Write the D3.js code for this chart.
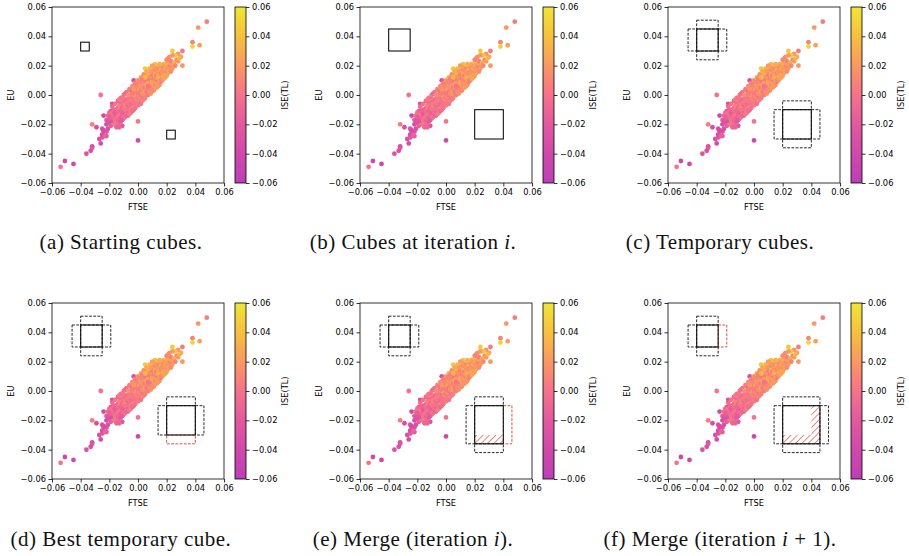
<!DOCTYPE html>
<html>
<head>
<meta charset="utf-8">
<script src="https://cdn.jsdelivr.net/npm/d3@7"></script>
<style>
  body { margin: 0; background: #fff; }
  svg text { font-family: 'DejaVu Sans', sans-serif; }
  .caption { font-family: 'Liberation Serif', serif; font-size: 21px; letter-spacing: 0.5px; fill: #111; }
</style>
</head>
<body>
<div id="chart"></div>
<script>
// returns of the markets, values per mille: [FTSE, EU, ISE(TL)]
const lowTail = [
  [-54, -49, 0], [-51, -45, -40], [-45, -47, -40], [-36, -40, -30], [-33, -38, -30],
  [-32, -35, -35], [-32, -36, -25], [-26, -33, -35], [-27, -30, -30], [-25, -29, -20],
  [-25, -27, -35], [-24, -25, -30], [-25, -23, -25], [-23, -28, -10], [-22, -25, -25],
  [-21, -23, -30], [-22, -20, -35], [-32, -20, 5], [-29, -22, -35], [-26, 0, 0],
  [-24, -14, -40], [-20, -14, -35], [-18, -6, -35], [-17, -14, -40], [-24, -24, -35],
  [-22, -28, -15], [-16, -19, -35], [-15, -20, -35], [0, -31, -40], [0, -18, 0],
  [-19, -11, -20], [-3, 10, -30], [-11, -21, -25], [-13, -22, -10]
]
const core = [
  [-22, -17, -15], [-21, -14, 0], [-20, -19, -25], [-20, -12, -5], [-19, -16, -10],
  [-19, -21, -15], [-18, -13, 5], [-18, -18, -30], [-17, -11, -5], [-17, -15, -10],
  [-17, -20, 0], [-16, -14, -20], [-16, -17, 5], [-16, -10, -10], [-15, -12, -15],
  [-15, -16, -5], [-15, -19, 5], [-14, -9, -10], [-14, -13, 0], [-14, -18, -10],
  [-13, -11, -25], [-13, -15, -5], [-13, -7, 10], [-12, -9, -10], [-12, -13, 5],
  [-12, -16, -15], [-12, -5, -5], [-11, -10, 0], [-11, -12, -30], [-11, -7, 5],
  [-11, -14, -10], [-10, -8, -15], [-10, -11, 10], [-10, -5, -5], [-10, -13, -10],
  [-10, -16, 0], [-9, -6, 5], [-9, -9, -5], [-9, -12, -20], [-9, -3, 0],
  [-8, -7, 10], [-8, -10, -5], [-8, -4, -10], [-8, -13, 5], [-8, -8, 15],
  [-7, -6, 0], [-7, -9, 10], [-7, -3, -5], [-7, -11, -15], [-6, -4, 5],
  [-6, -7, 15], [-6, -1, -5], [-6, -10, 0], [-5, -5, 10], [-5, -2, -10],
  [-5, -8, 5], [-5, 0, 15], [-5, -12, -10], [-4, -3, 15], [-4, -6, 0],
  [-4, 1, 5], [-4, -9, 5], [-3, -1, -5], [-3, -4, 10], [-3, 2, 20],
  [-3, -7, 5], [-3, -10, -15], [-2, 0, 5], [-2, -3, 0], [-2, 3, 15],
  [-2, -6, 10], [-2, 5, 25], [-1, 1, 5], [-1, -2, 10], [-1, 4, 5],
  [-1, -5, -5], [-1, 7, 30], [0, 2, 15], [0, -1, 5], [0, 5, 0],
  [0, -4, 0], [0, 8, 20], [0, 0, 25], [1, 3, 10], [1, 0, 0],
  [1, 6, 20], [1, -3, 5], [2, 1, 15], [2, 4, 5], [2, -2, 10],
  [2, 7, 30], [2, 10, 40], [3, 3, 20], [3, 6, 5], [3, 0, 10],
  [3, 9, 15], [3, -3, -10], [4, 5, 25], [4, 2, 5], [4, 8, 10],
  [4, 11, 35], [4, -1, 5], [5, 4, 15], [5, 7, 20], [5, 1, 0],
  [5, 10, 5], [5, 13, 40], [5, 18, 45], [6, 6, 10], [6, 3, 25],
  [6, 9, 0], [6, 12, 20], [6, 0, 15], [7, 5, 5], [7, 8, 30],
  [7, 11, 10], [7, 2, 20], [7, 14, 25], [8, 7, 15], [8, 10, 5],
  [8, 4, 25], [8, 13, 20], [8, 1, 10], [9, 9, 30], [9, 6, 0],
  [9, 12, 15], [9, 15, 35], [9, 3, 20], [10, 8, 10], [10, 11, 25],
  [10, 14, 5], [10, 5, 15], [10, 17, 30], [11, 10, 20], [11, 7, 35],
  [11, 13, 10], [11, 16, 0], [11, 4, 15], [12, 12, 25], [12, 9, 15],
  [12, 15, 30], [12, 6, 5], [12, 18, 20], [13, 11, 15], [13, 14, 35],
  [13, 8, 20], [13, 17, 10], [14, 13, 25], [14, 10, 5], [14, 16, 20],
  [14, 19, 40], [15, 12, 15], [15, 15, 30], [15, 18, 10], [15, 9, 25],
  [16, 14, 20], [16, 17, 35], [16, 11, 0], [16, 20, 25], [17, 16, 15],
  [17, 13, 30], [17, 19, 20], [18, 15, 25], [18, 18, 10], [18, 21, 30],
  [19, 17, 20], [19, 14, 35], [19, 20, 15], [20, 19, 25], [20, 16, 5],
  [20, 22, 40], [21, 18, 20], [21, 21, 30], [22, 20, 15], [22, 17, 25],
  [23, 22, 35], [23, 19, 10], [24, 21, 25], [24, 18, 20],
  [-14, -11, -5], [-13, -9, 5], [-12, -11, -10], [-11, -9, -10], [-10, -9, 5],
  [-9, -10, 0], [-9, -7, 10], [-8, -5, 0], [-7, -7, -10], [-7, -5, 5],
  [-6, -6, 5], [-6, -3, 0], [-5, -4, 10], [-5, -6, -5], [-4, -4, 5],
  [-4, -1, 5], [-3, -2, 0], [-3, 0, 10], [-2, -1, 15], [-2, 1, 0],
  [-1, 0, 20], [-1, 3, 10], [0, 1, 0], [0, 3, 10], [1, 2, 5],
  [1, 4, 25], [2, 2, 0], [2, 5, 20], [3, 4, 10], [3, 2, 5],
  [4, 4, 15], [4, 6, 20], [5, 5, 0], [5, 3, 10], [6, 5, 20],
  [6, 7, 30], [7, 7, 15], [7, 4, 10], [8, 8, 25], [8, 6, 5],
  [9, 8, 20], [9, 10, 10], [10, 10, 15], [10, 9, 30], [11, 11, 5],
  [11, 9, 20], [12, 11, 10], [12, 13, 25], [13, 12, 20], [13, 13, 5],
  [14, 14, 15], [14, 12, 30], [15, 14, 25], [16, 15, 10], [17, 15, 20],
  [18, 17, 15], [19, 18, 30], [20, 18, 20], [-16, -13, -15], [-15, -14, 0],
  [-17, -13, -20], [-18, -15, -5], [-19, -13, 0], [-20, -15, -15], [-21, -18, -25],
  [0, -2, 5], [1, -1, 15], [-1, -3, 5], [2, 0, 0], [3, 1, 20],
  [-2, -4, 10], [4, 1, 15], [5, 2, 25], [-3, -5, 0], [6, 2, 5], [7, 6, 0],
  [12, 21, 40]
]
// points off the main diagonal, above and below it
const spreadAbove = [
  [-18, -8, -5], [-16, -6, 0], [-14, -4, -10], [-12, -2, 5], [-10, 0, 5],
  [-8, 2, 0], [-6, 4, 10], [-4, 6, 15], [-2, 8, 5], [0, 10, 20],
  [2, 12, 30], [4, 14, 15], [6, 16, 25], [8, 18, 35], [10, 20, 20],
  [-13, -3, 5], [-9, 1, -5], [-5, 3, 0], [-1, 6, 10], [3, 11, 5],
  [7, 15, 30], [11, 19, 25], [-11, -2, 0], [-7, 0, 15], [-3, 4, 20],
  [1, 9, 10], [5, 12, 35], [9, 16, 20], [13, 18, 15], [15, 21, 30]
]
const spreadBelow = [
  [-15, -22, -10], [-13, -19, -5], [-11, -17, -15], [-9, -15, 0], [-7, -14, -5],
  [-5, -11, 5], [-3, -9, 10], [-1, -7, 0], [1, -5, 5], [3, -4, 15],
  [5, -2, 10], [7, 0, 5], [9, 1, 20], [11, 3, 10], [13, 5, 25],
  [15, 7, 15], [17, 10, 20], [19, 12, 30], [21, 15, 25], [23, 16, 15],
  [-12, -18, -20], [-8, -14, -10], [-4, -11, -5], [0, -7, 5], [4, -3, 5],
  [8, 2, 15], [12, 5, 20], [16, 9, 10], [20, 13, 25], [-6, -13, 5],
  [2, -6, 0], [10, 3, 15], [14, 6, 20], [18, 11, 25], [-2, -9, 0]
]
const highTail = [
  [48, 50, 5], [42, 46, 20], [43, 34, 25], [38, 36, 10], [38, 33, 50],
  [31, 20, 20], [31, 30, 5], [24, 30, 45], [28, 28, 20], [26, 27, 45],
  [30, 26, 25], [27, 24, 10], [28, 23, 20], [23, 23, 5], [21, 25, 25],
  [25, 22, 30], [22, 26, 15], [26, 20, 10], [29, 25, 35], [24, 27, 20], [20, 24, 10]
]
const perMille = 0.001

const ticks = [-0.06, -0.04, -0.02, 0, 0.02, 0.04, 0.06]
const colorStops = ['#bd3fb6', '#cf49aa', '#e2599e', '#f5728b', '#f99862', '#f6c03e', '#efe637']

// cubes as [x0, x1, y0, y1]
const startCubes = [[-0.040, -0.034, 0.030, 0.036], [0.020, 0.026, -0.030, -0.024]]
const cubeA = [-0.040, -0.025, 0.030, 0.045]
const cubeB = [0.020, 0.040, -0.030, -0.010]
const cubeBMerged = [0.020, 0.040, -0.036, -0.010]
const cubeBMerged2 = [0.020, 0.046, -0.036, -0.010]
const step = 0.006

const captions = [
  [['(a) Starting cubes.']],
  [['(b) Cubes at iteration '], ['i', true], ['.']],
  [['(c) Temporary cubes.']],
  [['(d) Best temporary cube.']],
  [['(e) Merge (iteration '], ['i', true], [').']],
  [['(f) Merge (iteration '], ['i', true], [' + 1).']]
]

// extension boxes around a cube; red = list of sides drawn red
function extensions (c, red = []) {
  const [x0, x1, y0, y1] = c
  return [
    { box: [x0 - step, x0, y0, y1], style: red.includes('left') ? 'red' : 'dash' },
    { box: [x1, x1 + step, y0, y1], style: red.includes('right') ? 'red' : 'dash' },
    { box: [x0, x1, y1, y1 + step], style: red.includes('top') ? 'red' : 'dash' },
    { box: [x0, x1, y0 - step, y0], style: red.includes('bottom') ? 'red' : 'dash' }
  ]
}

const panels = [
  startCubes.map(c => ({ box: c, style: 'solid' })),
  [cubeA, cubeB].map(c => ({ box: c, style: 'solid' })),
  [...extensions(cubeA), ...extensions(cubeB), { box: cubeA, style: 'solid' }, { box: cubeB, style: 'solid' }],
  [...extensions(cubeA), ...extensions(cubeB, ['bottom']), { box: cubeA, style: 'solid' }, { box: cubeB, style: 'solid' }],
  [
    { box: [0.020, 0.040, -0.036, -0.030], style: 'hatch' },
    ...extensions(cubeA), ...extensions(cubeBMerged, ['right']),
    { box: cubeA, style: 'solid' }, { box: cubeBMerged, style: 'solid' }
  ],
  [
    { box: [0.020, 0.046, -0.036, -0.030], style: 'hatch' },
    { box: [0.040, 0.046, -0.030, -0.010], style: 'hatch' },
    ...extensions(cubeA, ['right']), ...extensions(cubeBMerged2),
    { box: cubeA, style: 'solid' }, { box: cubeBMerged2, style: 'solid' }
  ]
]

const colLeft = [52, 360, 668]
const rowTop = [7, 303]
const captionX = [121, 413, 720]
const captionY = [249, 546]
const W = 172
const H = 176
const red = '#e8382f'

const points = [...lowTail, ...core, ...spreadAbove, ...spreadBelow, ...highTail]

const svg = d3.select('#chart')
  .append('svg')
  .attr('width', 909)
  .attr('height', 556)

const defs = svg.append('defs')
const grad = defs.append('linearGradient')
  .attr('id', 'cbar')
  .attr('x1', 0).attr('y1', 1).attr('x2', 0).attr('y2', 0)
colorStops.forEach((c, i) => {
  grad.append('stop').attr('offset', i / (colorStops.length - 1)).attr('stop-color', c)
})
const hatch = defs.append('pattern')
  .attr('id', 'hatch')
  .attr('patternUnits', 'userSpaceOnUse')
  .attr('width', 4.5)
  .attr('height', 4.5)
  .attr('patternTransform', 'rotate(45)')
hatch.append('line')
  .attr('x1', 0).attr('y1', 0).attr('x2', 0).attr('y2', 4.5)
  .attr('stroke', red)
  .attr('stroke-width', 1.2)

const color = d3.scaleLinear()
  .domain(d3.range(colorStops.length).map(i => -0.06 + i * 0.12 / (colorStops.length - 1)))
  .range(colorStops)
  .clamp(true)

const fmt = d3.format('.2f')

panels.forEach((shapes, i) => {
  const left = colLeft[i % 3]
  const top = rowTop[Math.floor(i / 3)]
  const g = svg.append('g').attr('transform', `translate(${left},${top})`)

  const x = d3.scaleLinear().domain([-0.06, 0.06]).range([0, W])
  const y = d3.scaleLinear().domain([-0.06, 0.06]).range([H, 0])

  g.append('g')
    .selectAll('circle')
    .data(points)
    .enter()
    .append('circle')
    .attr('cx', d => x(d[0] * perMille))
    .attr('cy', d => y(d[1] * perMille))
    .attr('r', 2.4)
    .attr('fill', d => color(d[2] * perMille))

  // cubes
  g.append('g')
    .selectAll('rect')
    .data(shapes)
    .enter()
    .append('rect')
    .attr('x', d => x(d.box[0]))
    .attr('y', d => y(d.box[3]))
    .attr('width', d => x(d.box[1]) - x(d.box[0]))
    .attr('height', d => y(d.box[2]) - y(d.box[3]))
    .attr('fill', d => d.style === 'hatch' ? 'url(#hatch)' : 'none')
    .attr('stroke', d => d.style === 'hatch' ? 'none' : d.style === 'red' ? red : '#111')
    .attr('stroke-width', d => d.style === 'solid' ? 1.1 : 0.9)
    .attr('stroke-dasharray', d => d.style === 'dash' || d.style === 'red' ? '2.8,1.4' : null)

  const xAxis = g.append('g')
    .attr('transform', `translate(0,${H})`)
    .call(d3.axisBottom(x).tickValues(ticks).tickFormat(fmt).tickSize(3.5).tickPadding(2.5))
  const yAxis = g.append('g')
    .call(d3.axisLeft(y).tickValues(ticks).tickFormat(fmt).tickSize(3.5).tickPadding(2.5))
  ;[xAxis, yAxis].forEach(a => {
    a.select('.domain').remove()
    a.selectAll('line').attr('stroke', '#000').attr('stroke-width', 0.8)
    a.selectAll('text').attr('font-size', 8.3).attr('fill', '#000').attr('font-family', 'DejaVu Sans')
  })

  g.append('rect')
    .attr('width', W)
    .attr('height', H)
    .attr('fill', 'none')
    .attr('stroke', '#000')
    .attr('stroke-width', 0.8)

  g.append('text')
    .attr('x', W / 2)
    .attr('y', H + 27)
    .attr('text-anchor', 'middle')
    .attr('font-size', 8.3)
    .text('FTSE')
  g.append('text')
    .attr('transform', `translate(-38,${H / 2}) rotate(-90)`)
    .attr('text-anchor', 'middle')
    .attr('font-size', 8.3)
    .text('EU')

  // colorbar
  const cb = g.append('g').attr('transform', `translate(${W + 11},0)`)
  cb.append('rect')
    .attr('width', 11)
    .attr('height', H)
    .attr('fill', 'url(#cbar)')
    .attr('stroke', '#000')
    .attr('stroke-width', 0.8)
  const cAxis = cb.append('g')
    .attr('transform', 'translate(11,0)')
    .call(d3.axisRight(y).tickValues(ticks).tickFormat(fmt).tickSize(3.5).tickPadding(2.5))
  cAxis.select('.domain').remove()
  cAxis.selectAll('line').attr('stroke', '#000').attr('stroke-width', 0.8)
  cAxis.selectAll('text').attr('font-size', 8.3).attr('fill', '#000').attr('font-family', 'DejaVu Sans')
  cb.append('text')
    .attr('transform', `translate(53,${H / 2}) rotate(-90)`)
    .attr('text-anchor', 'middle')
    .attr('font-size', 8.3)
    .text('ISE(TL)')

  const cap = svg.append('text')
    .attr('class', 'caption')
    .attr('x', captionX[i % 3])
    .attr('y', captionY[Math.floor(i / 3)])
    .attr('text-anchor', 'middle')
  captions[i].forEach(([t, it]) => {
    cap.append('tspan')
      .attr('font-style', it ? 'italic' : null)
      .text(t)
  })
})
</script>
</body>
</html>
